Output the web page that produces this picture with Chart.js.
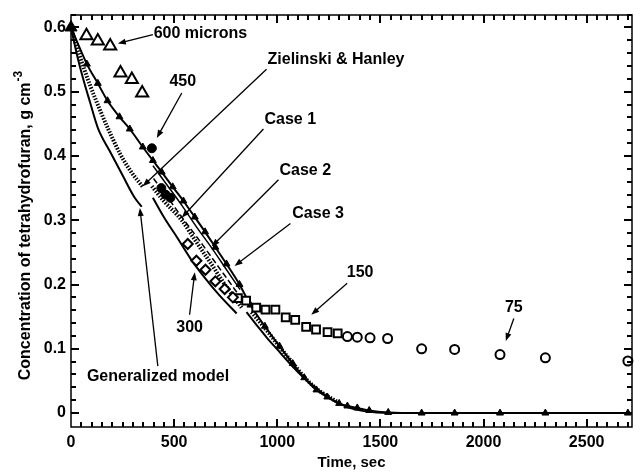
<!DOCTYPE html>
<html>
<head>
<meta charset="utf-8">
<script src="https://cdn.jsdelivr.net/npm/chart.js@4/dist/chart.umd.min.js"></script>
<style>
  html, body { margin: 0; padding: 0; background: #fff; }
  canvas { display: block; }
</style>
</head>
<body>
<canvas id="chart" width="641" height="472"></canvas>
<script>
var FONT = '"Liberation Sans", Arial, sans-serif';

// axis labels
var timeTicks = [0, 500, 1000, 1500, 2000, 2500];
var concTicks = [0, 0.1, 0.2, 0.3, 0.4, 0.5, 0.6];

// measured THF concentration (g/cm3) against time (s), per particle size
var t600 = [75, 130, 190, 240, 295, 345];
var c600 = [0.587, 0.579, 0.571, 0.529, 0.519, 0.498];
var t450 = [392, 438, 458, 482];
var c450 = [0.412, 0.350, 0.340, 0.335];
var t300 = [566, 608, 652, 700, 745, 785];
var c300 = [0.263, 0.237, 0.223, 0.205, 0.193, 0.180];
var t150 = [809, 849, 898, 943, 991, 1041, 1087, 1140, 1188, 1244, 1293];
var c150 = [0.179, 0.175, 0.164, 0.161, 0.161, 0.149, 0.145, 0.134, 0.130, 0.126, 0.124];
var t75 = [1340, 1388, 1450, 1535, 1700, 1860, 2080, 2300, 2700];
var c75 = [0.119, 0.118, 0.117, 0.116, 0.100, 0.099, 0.091, 0.086, 0.081];

// model curves, null breaks a curve between runs
var genT = [0, 30, 60, 92, 131, 189, 250, 309, 343, 370, 397, 450, 517, 580, 650, 720, 803, 827,
            851, 900, 950, 1000, 1050, 1100, 1150, 1200, 1250, 1300, 1350, 1420, 1540, 2700];
var genC = [0.6, 0.556, 0.519, 0.484, 0.443, 0.407, 0.37, 0.335, 0.321, null, 0.335, 0.305, 0.272, 0.24, 0.21, 0.183, 0.155, null,
            0.157, 0.137, 0.117, 0.099, 0.081, 0.064, 0.049, 0.036, 0.024, 0.015, 0.008, 0.003, 0, 0];
var zhT = [0, 40, 90, 140, 179, 237, 290, 348, 370, 392, 450, 537, 610, 680, 750, 827, 850,
           875, 925, 975, 1011, 1075, 1131, 1190, 1250, 1300];
var zhC = [0.6, 0.558, 0.512, 0.472, 0.443, 0.404, 0.376, 0.352, null, 0.353, 0.33, 0.3, 0.265, 0.232, 0.198, 0.164, null,
           0.157, 0.138, 0.118, 0.103, 0.078, 0.056, 0.038, 0.025, 0.016];
var case1T = [400, 470, 537, 610, 680, 750, 815];
var case1C = [0.365, 0.335, 0.305, 0.274, 0.243, 0.212, 0.183];
var case2T = [397, 470, 540, 610, 682, 750, 820];
var case2C = [0.385, 0.353, 0.322, 0.289, 0.257, 0.225, 0.192];
var case3T = [0, 77, 130, 177, 235, 285, 348, 397, 440, 493, 545, 600, 650, 700, 754, 817, 870, 940, 1011,
              1075, 1131, 1190, 1243, 1300, 1340, 1388, 1446, 1538, 1700, 1860, 2080, 2300, 2700];
var case3C = [0.6, 0.543, 0.513, 0.486, 0.461, 0.442, 0.414, 0.393, 0.375, 0.352, 0.33, 0.305, 0.282, 0.258, 0.232, 0.2, 0.168, 0.135, 0.104,
              0.077, 0.055, 0.036, 0.025, 0.015, 0.011, 0.008, 0.004, 0.001, 0, 0, 0, 0, 0];

// tick positions on the frame (major ones get labels)
var timeMinor = [];
for (var s = 50; s < 2720; s += 50) timeMinor.push(s);
var concMinor = [];
for (var q = 0; q <= 31; q++) concMinor.push(Math.round(q * 2) / 100);

// callouts: text anchor and arrow (tail -> head) in axis units
var notes = [
  { text: '600 microns', at: [401, 0.591], align: 'left', from: [397, 0.589], to: [227, 0.575] },
  { text: '450', at: [542, 0.516], align: 'center', from: [537, 0.498], to: [416, 0.428] },
  { text: 'Zielinski & Hanley', at: [953, 0.550], align: 'left', from: [948, 0.535], to: [348, 0.353] },
  { text: 'Case 1', at: [938, 0.457], align: 'left', from: [933, 0.442], to: [537, 0.304] },
  { text: 'Case 2', at: [1011, 0.377], align: 'left', from: [1006, 0.363], to: [682, 0.259] },
  { text: 'Case 3', at: [1073, 0.310], align: 'left', from: [1064, 0.295], to: [793, 0.229] },
  { text: '150', at: [1402, 0.219], align: 'center', from: [1339, 0.202], to: [1165, 0.153] },
  { text: '75', at: [2147, 0.164], align: 'center', from: [2147, 0.147], to: [2108, 0.112] },
  { text: '300', at: [575, 0.133], align: 'center', from: [575, 0.153], to: [600, 0.219] },
  { text: 'Generalized model', at: [77, 0.056], align: 'left', from: [421, 0.073], to: [334, 0.319] }
];

function pts(xs, ys) {
  return xs.map(function (x, i) { return { x: x, y: ys[i] }; });
}

function marker(data, style, radius, filled) {
  return {
    data: data, showLine: false, clip: false,
    pointStyle: style, pointRadius: radius, pointBorderWidth: filled ? 1 : 2,
    pointBackgroundColor: filled ? '#000' : '#fff', pointBorderColor: '#000'
  };
}

function curve(data, width, dash) {
  return {
    data: data, showLine: true, pointRadius: 0, borderColor: '#000',
    borderWidth: width, borderDash: dash || [], spanGaps: false,
    cubicInterpolationMode: 'monotone'
  };
}

function arrow(ctx, x1, y1, x2, y2) {
  var ang = Math.atan2(y2 - y1, x2 - x1);
  var head = 8, half = 3;
  var c = Math.cos(ang), s = Math.sin(ang);
  ctx.beginPath();
  ctx.moveTo(x1, y1);
  ctx.lineTo(x2 - c * head * 0.8, y2 - s * head * 0.8);
  ctx.stroke();
  ctx.beginPath();
  ctx.moveTo(x2, y2);
  ctx.lineTo(x2 - head * c + half * s, y2 - head * s - half * c);
  ctx.lineTo(x2 - head * c - half * s, y2 - head * s + half * c);
  ctx.closePath();
  ctx.fill();
}

// box with inward major/minor ticks on all four sides
function drawFrame(chart) {
  var ctx = chart.ctx, a = chart.chartArea;
  var xs = chart.scales.x, ys = chart.scales.y;
  var x0 = Math.round(a.left), x1 = Math.round(a.right);
  var y0 = Math.round(a.top), y1 = Math.round(a.bottom);
  ctx.save();
  ctx.fillStyle = '#000';
  timeMinor.forEach(function (t) {
    var px = Math.round(xs.getPixelForValue(t));
    var len = t % 500 === 0 ? 8 : 5;
    ctx.fillRect(px - 1, y1 - len, 2, len);
    ctx.fillRect(px - 1, y0, 2, len);
  });
  concMinor.forEach(function (v, i) {
    var py = Math.round(ys.getPixelForValue(v));
    var len = i % 5 === 0 ? 8 : 5;
    ctx.fillRect(x0, py - 1, len, 2);
    ctx.fillRect(x1 - len, py - 1, len, 2);
  });
  ctx.strokeStyle = '#000';
  ctx.lineWidth = 1.5;
  ctx.strokeRect(x0, y0, x1 - x0, y1 - y0);
  ctx.restore();
}

var frame = {
  id: 'frame',
  afterDatasetsDraw: function (chart) {
    var ctx = chart.ctx, a = chart.chartArea;
    var xs = chart.scales.x, ys = chart.scales.y;
    drawFrame(chart);
    ctx.save();
    ctx.fillStyle = '#000';
    ctx.strokeStyle = '#000';
    ctx.lineWidth = 1.3;
    ctx.font = 'bold 16px ' + FONT;
    ctx.textBaseline = 'middle';
    notes.forEach(function (n) {
      ctx.textAlign = n.align;
      ctx.fillText(n.text, xs.getPixelForValue(n.at[0]), ys.getPixelForValue(n.at[1]));
      arrow(ctx, xs.getPixelForValue(n.from[0]), ys.getPixelForValue(n.from[1]),
            xs.getPixelForValue(n.to[0]), ys.getPixelForValue(n.to[1]));
    });

    // axis titles
    ctx.textAlign = 'center';
    ctx.font = 'bold 15px ' + FONT;
    ctx.fillText('Time, sec', (a.left + a.right) / 2, 463);

    ctx.translate(26, 226);
    ctx.rotate(-Math.PI / 2);
    var main = 'Concentration of tetrahydrofuran, g cm';
    ctx.font = 'bold 16px ' + FONT;
    var w1 = ctx.measureText(main).width;
    ctx.font = 'bold 12px ' + FONT;
    var w2 = ctx.measureText('-3').width;
    var start = -(w1 + w2) / 2;
    ctx.textAlign = 'left';
    ctx.fillText('-3', start + w1 + 1, -7);
    ctx.font = 'bold 16px ' + FONT;
    ctx.fillText(main, start, 0);
    ctx.restore();
  }
};

var tri = marker(pts(case3T, case3C), 'triangle', 4, true);
tri.pointRadius = function (c) { return c.dataIndex === 0 ? 7 : 4; };

new Chart(document.getElementById('chart'), {
  type: 'line',
  data: {
    datasets: [
      marker(pts(t600, c600), 'triangle', 7, false),
      marker(pts(t450, c450), 'circle', 4.5, true),
      marker(pts(t300, c300), 'rectRot', 5, false),
      marker(pts(t150, c150), 'rect', 5.5, false),
      marker(pts(t75, c75), 'circle', 4.5, false),
      tri,
      curve(pts(case3T, case3C), 2),
      curve(pts(case2T, case2C), 1.5),
      curve(pts(case1T, case1C), 1.5, [6, 3]),
      curve(pts(zhT, zhC), 4, [1.5, 1.5]),
      curve(pts(genT, genC), 2)
    ]
  },
  options: {
    responsive: false,
    animation: false,
    devicePixelRatio: 1,
    layout: { padding: { left: 0, top: 13, right: 7.5, bottom: 0 } },
    plugins: { legend: { display: false }, tooltip: { enabled: false } },
    scales: {
      x: {
        type: 'linear', min: 0, max: 2720,
        grid: { display: false, drawTicks: false },
        border: { display: false },
        afterBuildTicks: function (sc) { sc.ticks = timeTicks.map(function (v) { return { value: v }; }); },
        afterFit: function (sc) { sc.height = 45; },
        ticks: {
          color: '#000', padding: 6, maxRotation: 0, font: { family: FONT, size: 16, weight: 'bold' },
          callback: function (v) { return String(v); }
        }
      },
      y: {
        type: 'linear', min: -0.0217, max: 0.62,
        grid: { display: false, drawTicks: false },
        border: { display: false },
        afterBuildTicks: function (sc) { sc.ticks = concTicks.map(function (v) { return { value: v }; }); },
        afterFit: function (sc) { sc.width = 71; },
        ticks: {
          color: '#000', padding: 5, font: { family: FONT, size: 16, weight: 'bold' },
          callback: function (v) { return v === 0 ? '0' : v.toFixed(1); }
        }
      }
    }
  },
  plugins: [frame]
});
</script>
</body>
</html>
